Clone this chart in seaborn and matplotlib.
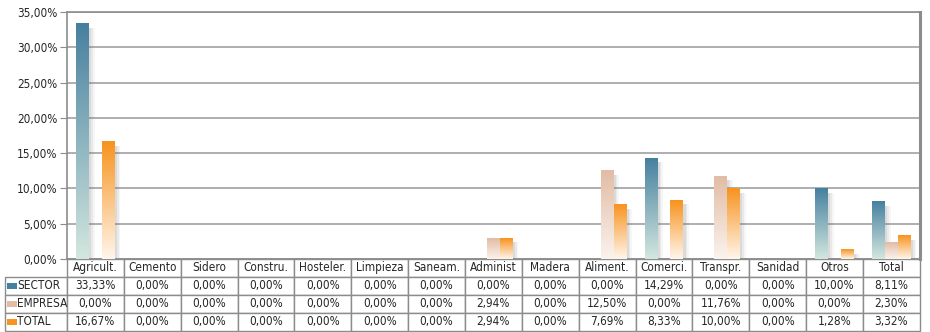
import numpy as np
import pandas as pd
import matplotlib
matplotlib.use('Agg')
import matplotlib.pyplot as plt
import seaborn as sns
from matplotlib.colors import to_rgb
from matplotlib.ticker import FuncFormatter, MultipleLocator
from matplotlib.patches import Rectangle

### DATOS ###
categorias = ['Agricult.', 'Cemento', 'Sidero', 'Constru.', 'Hosteler.', 'Limpieza',
              'Saneam.', 'Administ', 'Madera', 'Aliment.', 'Comerci.', 'Transpr.',
              'Sanidad', 'Otros', 'Total']
sector = [33.33, 0, 0, 0, 0, 0, 0, 0, 0, 0, 14.29, 0, 0, 10.00, 8.11]
empresa = [0, 0, 0, 0, 0, 0, 0, 2.94, 0, 12.50, 0, 11.76, 0, 0, 2.30]
total = [16.67, 0, 0, 0, 0, 0, 0, 2.94, 0, 7.69, 8.33, 10.00, 0, 1.28, 3.32]
series = ['SECTOR', 'EMPRESA', 'TOTAL']

color_arriba = {'SECTOR': '#46809f', 'EMPRESA': '#e2bca4', 'TOTAL': '#f7931e'}
color_abajo = {'SECTOR': '#d3e7df', 'EMPRESA': '#fbf3ee', 'TOTAL': '#fff6ec'}

df = pd.DataFrame({
    'categoria': categorias * 3,
    'serie': [s for s in series for _ in categorias],
    'valor': sector + empresa + total,
})


def pct(v):
    return f'{v:.2f}'.replace('.', ',') + '%'


### ESTILO ###
sns.set_style('white')
plt.rcParams['font.family'] = ['DejaVu Sans']
plt.rcParams['font.stretch'] = 'condensed'

fig = plt.figure(figsize=(9.3, 3.32), dpi=100)
ax = fig.add_axes([0.072, 0.22, 0.917, 0.744])

sns.barplot(data=df, x='categoria', y='valor', hue='serie', palette=color_arriba,
            width=0.68, saturation=1, errorbar=None, legend=False, ax=ax)

# Barras con degradado y sombra suave
for serie, cont in zip(series, ax.containers):
    c1 = np.array(to_rgb(color_arriba[serie]))
    c2 = np.array(to_rgb(color_abajo[serie]))
    t = np.linspace(0, 1, 256)[:, None]
    grad = (c1 * (1 - t) + c2 * t)[:, None, :]
    for p in cont.patches:
        h = p.get_height()
        x0 = p.get_x()
        w = p.get_width()
        if h <= 0:
            p.set_visible(False)
            continue
        for k, a in [(0.10, 0.06), (0.07, 0.09), (0.04, 0.12)]:
            ax.add_patch(Rectangle((x0 + k, 0), w, max(h - 0.6, 0), color='#707070',
                                   alpha=a, lw=0, zorder=2))
        ax.imshow(grad, extent=[x0, x0 + w, 0, h], aspect='auto', zorder=3,
                  interpolation='bilinear')
        p.set_visible(False)

ax.set_xlim(-0.5, 14.5)
ax.set_ylim(0, 35)
ax.yaxis.set_major_locator(MultipleLocator(5))
ax.yaxis.set_major_formatter(FuncFormatter(lambda v, p: pct(v)))
ax.grid(axis='y', color='#a8a8a8', lw=1.3)
ax.set_axisbelow(True)
ax.tick_params(axis='x', bottom=False, labelbottom=False)
ax.tick_params(axis='y', left=True, length=5, color='#8c8c8c', labelsize=8.5, pad=2)
ax.set_xlabel('')
ax.set_ylabel('')
for lado in ['left', 'top', 'right', 'bottom']:
    ax.spines[lado].set_color('#8c8c8c')
    ax.spines[lado].set_linewidth(1.2)
ax.spines['right'].set_linewidth(2.2)

### TABLA ###
lw = 62 / 853
alto = 72 / 247
filas = [[s] + [pct(v) for v in vals] for s, vals in zip(series, [sector, empresa, total])]
tabla = ax.table(cellText=filas, colLabels=[''] + categorias,
                 colWidths=[lw] + [1 / 15] * 15, cellLoc='center',
                 bbox=[-lw, -alto, 1 + lw, alto])
tabla.auto_set_font_size(False)
tabla.set_fontsize(8.5)
for (r, c), cell in tabla.get_celld().items():
    cell.set_edgecolor('#8c8c8c')
    cell.set_linewidth(1)
    cell.get_text().set_fontstretch('condensed')
    if r == 0 and c == 0:
        cell.visible_edges = ''
    if c == 0 and r > 0:
        cell._loc = 'left'
        cell.PAD = 0.2
        cell.get_text().set_ha('left')

# Muestras de color de la leyenda
fila_h = alto / 4
for i, serie in enumerate(series):
    y_c = -fila_h * (i + 1) - fila_h / 2
    ax.add_patch(Rectangle((-lw + 2 / 853, y_c - 0.012), 10 / 853, 0.024,
                           transform=ax.transAxes, clip_on=False, lw=0,
                           color=color_arriba[serie], zorder=5))

fig.savefig('out.png', dpi=100)
